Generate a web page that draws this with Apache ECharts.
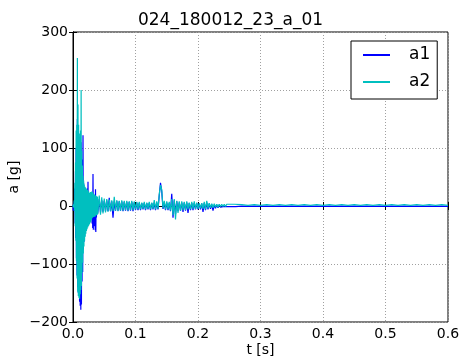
<!DOCTYPE html>
<html>
<head>
<meta charset="utf-8">
<script src="https://cdn.jsdelivr.net/npm/echarts@6/dist/echarts.min.js"></script>
<style>html,body{margin:0;padding:0;background:#fff}#c{width:461px;height:358px}</style>
</head>
<body>
<div id="c"></div>
<script>
// Three sampled stretches of the recording:
// impact part every 0.5 ms from 0 s, ring-down every 2 ms from 0.04 s, tail every 10 ms from 0.27 s
var impactStep = 0.0005;
var ringStart = 0.04, ringStep = 0.002;
var tailStart = 0.27, tailStep = 0.01;

var a1Impact = [2,-8, 3,-6, 8,-8, 30,-30, 60,-55, 100,-90, 110,-120, 150,-140, 130,-150, 110,-155,
  100,-165, 95,-172, 100,-179, 110,-170, 80,-130, 60,-114, 122,-75, 40,-62, 32,-52, 28,-46,
  27,-42, 26,-38, 25,-35, 30,-33, 42,-30, 22,-28, 20,-27, 19,-26, 20,-24, 19,-22,
  20,-30, 22,-38, 55,-41, 20,-35, 18,-30, 17,-42, 29,-45, 16,-20, 15,-14, 14,-13];
var a2Impact = [2,-2, 3,-3, 10,-8, 40,-35, 75,-60, 130,-95, 140,-125, 255,-148, 175,-155, 140,-158,
  125,-160, 118,-152, 130,-145, 200,-138, 95,-115, 70,-98, 52,-82, 44,-70, 37,-60, 33,-53,
  32,-48, 30,-43, 29,-40, 28,-37, 26,-35, 25,-33, 23,-31, 22,-29, 24,-27, 23,-24,
  25,-21, 24,-20, 22,-19, 21,-19, 20,-18, 19,-18, 18,-16, 17,-16, 17,-15, 16,-14];

var a1Ring = [-12,12,-11,10,-10,9,-9,10,-9,14,-9,8,-20,8,-8,9,-8,8,-8,8,
  -9,7,-8,7,-9,7,-8,7,-9,6,-7,6,-7,5,-7,5,-6,5,-7,5,
  -6,5,-7,5,-6,6,-7,6,-6,18,40,25,-5,6,-7,6,-7,5,-9,21,
  -20,10,-14,8,-9,6,-8,6,-10,6,-8,6,-12,5,-7,5,-7,5,-6,5,
  -6,4,-6,4,-10,5,-7,6,-6,4,-5,3,-8,2,-4,2,-3,2,-2,1,
  -1,1,-1,1,-1,1,-1,1,-1,1,-1];
var a2Ring = [-17,18,-15,15,-13,13,-11,12,-10,11,-9,10,-9,16,-8,10,-9,9,-8,10,
  -8,9,-7,9,-8,8,-7,9,-7,8,-6,7,-6,7,-6,6,-5,7,-6,6,
  -5,7,-6,6,-5,10,-6,8,-5,20,36,28,-4,9,-6,8,-6,7,-8,12,
  -16,12,-23,9,-12,8,-8,8,-7,7,-7,8,-6,6,-6,7,-5,8,-5,6,
  -5,5,-4,5,-5,7,-6,9,-4,5,-3,4,-3,4,-2,3,-2,3,-1,3,
  -1,3,-1,3,0,3,0,3,0,3,0];

var a1Tail = [-0.2,-0.6,-0.2,-0.6,-0.2,-0.6,-0.2,-0.6,-0.2,-0.6,-0.2,-0.6,-0.2,-0.6,-0.2,-0.6,-0.2,
  -0.6,-0.2,-0.6,-0.2,-0.6,-0.2,-0.6,-0.2,-0.6,-0.2,-0.6,-0.2,-0.6,-0.2,-0.6,-0.2,-0.6];
var a2Tail = [2.4,1.2,2.4,1.2,2.4,1.2,2.4,1.2,2.4,1.2,2.4,1.2,2.4,1.2,2.4,1.2,2.4,
  1.2,2.4,1.2,2.4,1.2,2.4,1.2,2.4,1.2,2.4,1.2,2.4,1.2,2.4,1.2,2.4,1.2];

var seriesNames = ['a1', 'a2'];
var xTicks = [0, 0.1, 0.2, 0.3, 0.4, 0.5, 0.6];
var yTicks = [-200, -100, 0, 100, 200, 300];
var titleText = '024_180012_23_a_01';

function build(impact, ring, tail) {
  var out = [], i;
  for (i = 0; i < impact.length; i++) out.push([+(i * impactStep).toFixed(5), impact[i]]);
  for (i = 0; i < ring.length; i++) out.push([+(ringStart + i * ringStep).toFixed(5), ring[i]]);
  for (i = 0; i < tail.length; i++) out.push([+(tailStart + i * tailStep).toFixed(5), tail[i]]);
  return out;
}

var FONT = 'DejaVu Sans';
var chart = echarts.init(document.getElementById('c'), null, {renderer: 'canvas'});
var gridSplit = {show: true, lineStyle: {color: '#a0a0a0', type: [1, 2], width: 1}};
var tick = {show: true, inside: true, length: 4, lineStyle: {color: '#000'}};
chart.setOption({
  animation: false,
  backgroundColor: '#fff',
  title: {text: titleText, left: 'center', top: 12, padding: 0,
    textStyle: {fontFamily: FONT, fontSize: 17, fontWeight: 'normal', color: '#000'}},
  legend: {
    left: 351, top: 41, orient: 'vertical', icon: 'rect',
    padding: [5.5, 7, 8.5, 12], itemWidth: 27, itemHeight: 2, itemGap: 10,
    borderColor: '#000', borderWidth: 1, backgroundColor: '#fff', borderRadius: 0,
    data: seriesNames,
    textStyle: {fontFamily: FONT, fontSize: 17, lineHeight: 17, color: '#000', padding: [0, 0, 0, 14]}
  },
  grid: {left: 73, right: 13, top: 32, bottom: 36, show: true, borderColor: '#000', borderWidth: 1,
    outerBoundsMode: 'none', containLabel: false},
  xAxis: [{
    type: 'value', min: xTicks[0], max: xTicks[xTicks.length - 1], interval: 0.1,
    name: 't [s]', nameLocation: 'middle', nameGap: 21, nameMoveOverlap: false,
    nameTextStyle: {fontFamily: FONT, fontSize: 14, color: '#000'},
    axisLine: {lineStyle: {color: '#000'}},
    axisTick: tick,
    axisLabel: {fontFamily: FONT, fontSize: 14, color: '#000', margin: 5,
      formatter: function (v) { return v.toFixed(1); }},
    splitLine: gridSplit
  }, {
    type: 'value', position: 'top', min: xTicks[0], max: xTicks[xTicks.length - 1], interval: 0.1,
    axisLine: {show: true, lineStyle: {color: '#000'}},
    axisTick: tick, axisLabel: {show: false}, splitLine: {show: false}
  }],
  yAxis: [{
    type: 'value', min: yTicks[0], max: yTicks[yTicks.length - 1], interval: 100,
    name: 'a [g]', nameLocation: 'middle', nameGap: 52, nameRotate: 90, nameMoveOverlap: false,
    nameTextStyle: {fontFamily: FONT, fontSize: 14, color: '#000'},
    axisLine: {show: true, lineStyle: {color: '#000'}},
    axisTick: tick,
    axisLabel: {fontFamily: FONT, fontSize: 14, color: '#000', margin: 5,
      formatter: function (v) { return String(v).replace('-', '\u2212'); }},
    splitLine: gridSplit
  }, {
    type: 'value', position: 'right', min: yTicks[0], max: yTicks[yTicks.length - 1], interval: 100,
    axisLine: {show: true, lineStyle: {color: '#000'}},
    axisTick: tick, axisLabel: {show: false}, splitLine: {show: false}
  }],
  series: [
    {name: seriesNames[0], type: 'line', data: build(a1Impact, a1Ring, a1Tail), symbol: 'none',
      sampling: null, lineStyle: {color: '#0000ff', width: 1.2}, itemStyle: {color: '#0000ff'}, z: 2},
    {name: seriesNames[1], type: 'line', data: build(a2Impact, a2Ring, a2Tail), symbol: 'none',
      sampling: null, lineStyle: {color: '#00bfbf', width: 1.2}, itemStyle: {color: '#00bfbf'}, z: 3}
  ]
});
</script>
</body>
</html>
